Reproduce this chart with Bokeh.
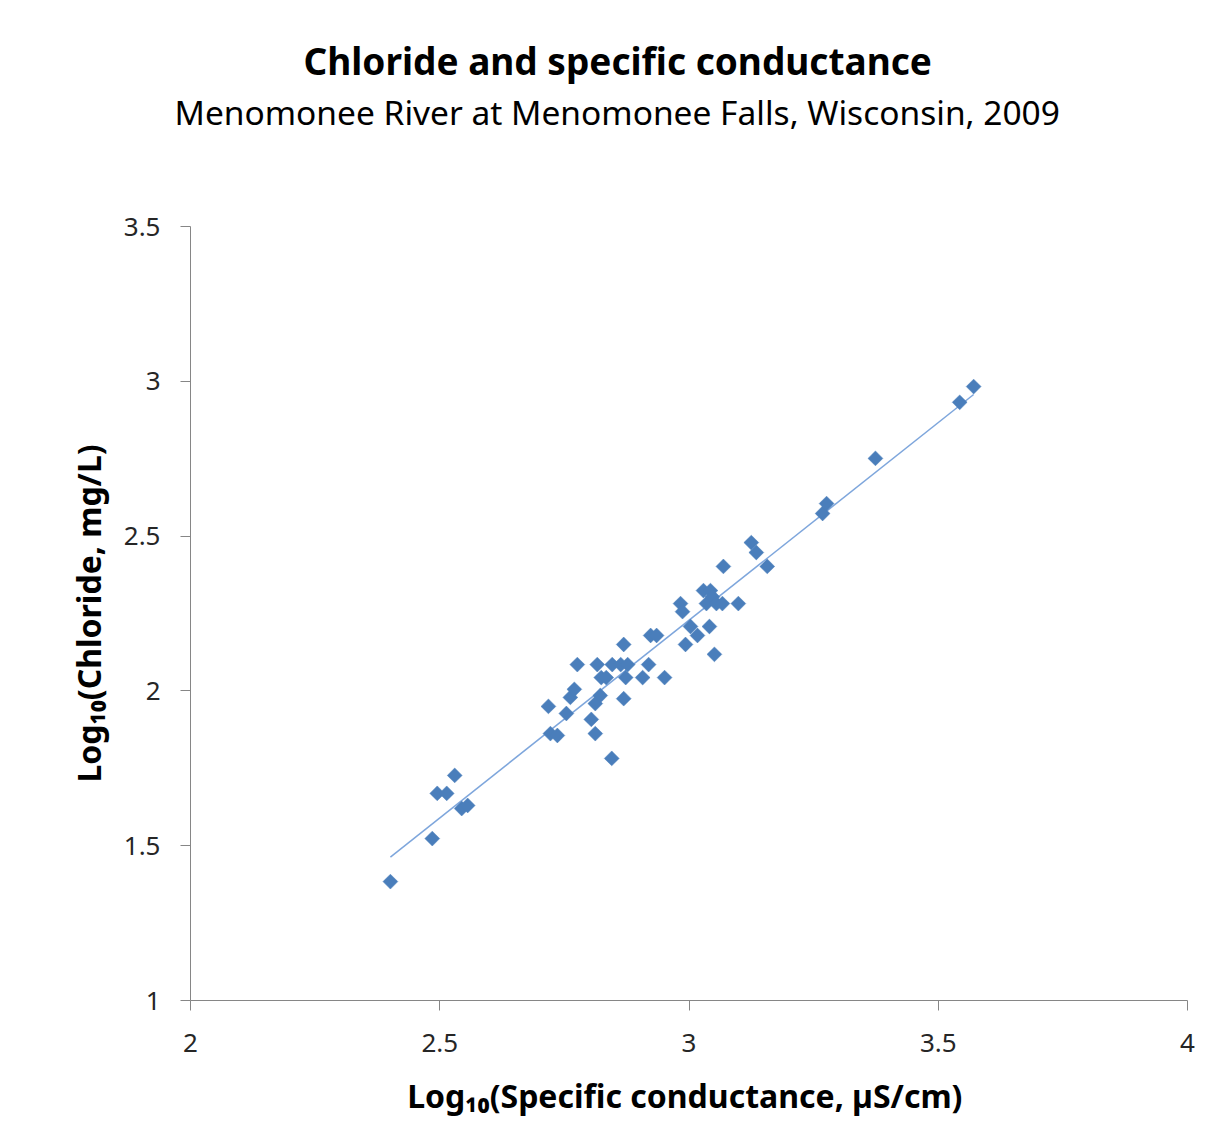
import numpy as np
from bokeh.plotting import figure
from bokeh.models import Range1d, Title, FixedTicker, ColumnDataSource
from bokeh.embed import file_html
from bokeh.resources import INLINE

title_text = "Chloride and specific conductance"
subtitle_text = "Menomonee River at Menomonee Falls, Wisconsin, 2009"
x_label = "Log\u2081\u2080(Specific conductance,  \u00b5S/cm)"
y_label = "Log\u2081\u2080(Chloride, mg/L)"

x_ticks = [2, 2.5, 3, 3.5, 4]
y_ticks = [1, 1.5, 2, 2.5, 3, 3.5]

log_sc = [2.401, 2.485, 2.495, 2.514, 2.530, 2.544, 2.556, 2.718, 2.722, 2.736,
          2.754, 2.762, 2.770, 2.776, 2.804, 2.812, 2.812, 2.816, 2.822, 2.824,
          2.834, 2.845, 2.846, 2.863, 2.869, 2.869, 2.873, 2.877, 2.907, 2.919,
          2.923, 2.935, 2.951, 2.983, 2.987, 2.993, 3.003, 3.017, 3.029, 3.035,
          3.043, 3.041, 3.047, 3.051, 3.055, 3.069, 3.067, 3.099, 3.125, 3.135,
          3.157, 3.268, 3.276, 3.374, 3.543, 3.571]
log_cl = [1.384, 1.523, 1.669, 1.669, 1.727, 1.620, 1.630, 1.950, 1.862, 1.856,
          1.927, 1.979, 2.005, 2.085, 1.908, 1.862, 1.959, 2.085, 1.985, 2.043,
          2.043, 1.782, 2.085, 2.085, 1.975, 2.150, 2.043, 2.085, 2.043, 2.085,
          2.179, 2.179, 2.043, 2.282, 2.256, 2.150, 2.208, 2.179, 2.324, 2.282,
          2.324, 2.208, 2.304, 2.118, 2.282, 2.402, 2.282, 2.282, 2.479, 2.447,
          2.402, 2.573, 2.605, 2.751, 2.932, 2.983]

p = figure(width=1209, height=1129, output_backend="svg", toolbar_location=None,
           x_range=Range1d(2, 4), y_range=Range1d(1, 3.5),
           min_border_left=190, min_border_right=22, min_border_top=226,
           min_border_bottom=129)
p.outline_line_color = None
p.grid.grid_line_color = None
p.background_fill_color = "white"
p.border_fill_color = "white"

for ax, ticks in ((p.xaxis, x_ticks), (p.yaxis, y_ticks)):
    ax.ticker = FixedTicker(ticks=ticks)
    ax.minor_tick_line_color = None
    ax.major_tick_in = 0
    ax.major_tick_out = 10
    ax.axis_line_color = "#868686"
    ax.major_tick_line_color = "#868686"
    ax.major_label_text_font = "Noto Sans"
    ax.major_label_text_font_size = "26px"
    ax.major_label_text_color = "#262626"
    ax.axis_label_text_font = "Noto Sans"
    ax.axis_label_text_font_style = "bold"
    ax.axis_label_text_font_size = "32px"
    ax.axis_label_text_color = "black"

p.xaxis.axis_label = x_label
p.yaxis.axis_label = y_label
p.xaxis.major_label_standoff = 23
p.yaxis.major_label_standoff = 20
p.xaxis.axis_label_standoff = 19
p.yaxis.axis_label_standoff = 11

# trend line (least squares fit of the data)
xs = np.array(log_sc)
ys = np.array(log_cl)
m, b = np.polyfit(xs, ys, 1)
fx = [xs.min(), xs.max()]
p.line(fx, [m * v + b for v in fx], line_color="#7ea6dc", line_width=1.5)

src = ColumnDataSource(dict(x=log_sc, y=log_cl))
p.scatter("x", "y", source=src, marker="square", size=10.5, angle=np.pi / 4,
          fill_color="#4a7ebb", line_color="#4a7ebb", line_width=0.5)

# titles: spacer nearest frame, then subtitle, then title
p.add_layout(Title(text=" ", text_font_size="67px"), "above")
p.add_layout(Title(text=subtitle_text, align="left", offset=-16,
                   text_font="Noto Sans", text_font_style="normal",
                   text_font_size="33.5px", text_color="black"), "above")
p.add_layout(Title(text=title_text, align="left", offset=113, standoff=-8,
                   text_font="Noto Sans", text_font_style="bold",
                   text_font_size="37px", text_color="black"), "above")

open("out.html", "w").write(file_html(p, INLINE))
